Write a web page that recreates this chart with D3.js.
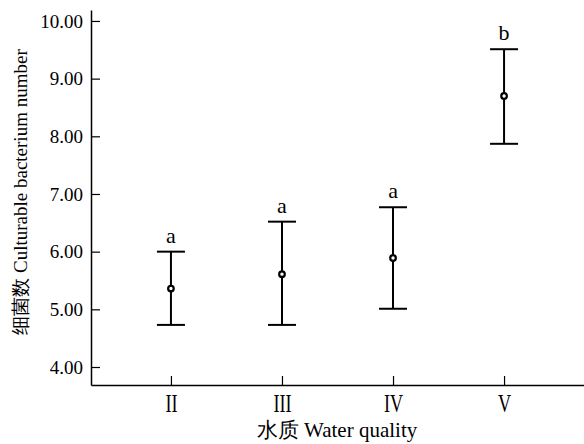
<!DOCTYPE html>
<html>
<head>
<meta charset="utf-8">
<script src="https://cdn.jsdelivr.net/npm/d3@7"></script>
<style>
  body { margin: 0; background: #fff; }
  svg { display: block; }
</style>
</head>
<body>
<div id="chart"></div>
<script>
// data
const categories = ["II", "III", "IV", "V"];
const means = [5.36, 5.61, 5.89, 8.70];
const upper = [6.00, 6.52, 6.77, 9.51];
const lower = [4.73, 4.73, 5.01, 7.87];
const letters = ["a", "a", "a", "b"];
const yTicks = [4, 5, 6, 7, 8, 9, 10];

const W = 584, H = 444;
const margin = { left: 91, right: 0, top: 10, bottom: 59 };
const serif = "'Liberation Serif', 'Times New Roman', serif";

const svg = d3.select("#chart").append("svg")
  .attr("width", W)
  .attr("height", H)
  .style("font-family", serif);

const x = d3.scalePoint()
  .domain(categories)
  .range([margin.left, W - margin.right])
  .padding(0.72);

const y = d3.scaleLinear()
  .domain([3.688, 10.19])
  .range([H - margin.bottom, margin.top]);

// axes
const xAxis = svg.append("g")
  .attr("transform", `translate(0,${H - margin.bottom})`)
  .call(d3.axisBottom(x).tickSizeInner(-9).tickSizeOuter(0).tickPadding(9));
xAxis.attr("font-family", null);
xAxis.select(".domain").attr("stroke-width", 1.5);
xAxis.selectAll(".tick line").attr("stroke-width", 1.2);
xAxis.selectAll(".tick text")
  .style("font-family", serif)
  .style("font-size", "26px")
  .attr("transform", "scale(0.7,1)");

const yAxis = svg.append("g")
  .attr("transform", `translate(${margin.left},0)`)
  .call(d3.axisLeft(y).tickValues(yTicks).tickFormat(d3.format(".2f"))
    .tickSizeInner(-9).tickSizeOuter(0).tickPadding(8));
yAxis.attr("font-family", null);
yAxis.select(".domain").attr("stroke-width", 1.5);
yAxis.selectAll(".tick line").attr("stroke-width", 1.2);
yAxis.selectAll(".tick text")
  .style("font-family", serif)
  .style("font-size", "19px");

// error bars
const rows = categories.map((c, i) => ({ c, m: means[i], hi: upper[i], lo: lower[i], l: letters[i] }));
const capW = 14;

const g = svg.append("g").attr("stroke", "#000").attr("stroke-width", 2);
g.selectAll("line.v").data(rows).join("line")
  .attr("class", "v")
  .attr("x1", d => x(d.c)).attr("x2", d => x(d.c))
  .attr("y1", d => y(d.hi)).attr("y2", d => y(d.lo));
g.selectAll("line.top").data(rows).join("line")
  .attr("class", "top")
  .attr("x1", d => x(d.c) - capW).attr("x2", d => x(d.c) + capW)
  .attr("y1", d => y(d.hi)).attr("y2", d => y(d.hi));
g.selectAll("line.bot").data(rows).join("line")
  .attr("class", "bot")
  .attr("x1", d => x(d.c) - capW).attr("x2", d => x(d.c) + capW)
  .attr("y1", d => y(d.lo)).attr("y2", d => y(d.lo));

svg.append("g").selectAll("circle").data(rows).join("circle")
  .attr("cx", d => x(d.c))
  .attr("cy", d => y(d.m))
  .attr("r", 2.8)
  .attr("fill", "#fff")
  .attr("stroke", "#000")
  .attr("stroke-width", 2.2);

// significance letters
svg.append("g").selectAll("text").data(rows).join("text")
  .attr("x", d => x(d.c))
  .attr("y", d => y(d.hi) - 9)
  .attr("text-anchor", "middle")
  .style("font-size", "22px")
  .text(d => d.l);

// axis titles
svg.append("text")
  .attr("transform", "translate(27,192) rotate(-90)")
  .attr("text-anchor", "middle")
  .style("font-size", "19px")
  .text("细菌数 Culturable bacterium number");

svg.append("text")
  .attr("x", 337)
  .attr("y", 437)
  .attr("text-anchor", "middle")
  .style("font-size", "21px")
  .text("水质 Water quality");
</script>
</body>
</html>
